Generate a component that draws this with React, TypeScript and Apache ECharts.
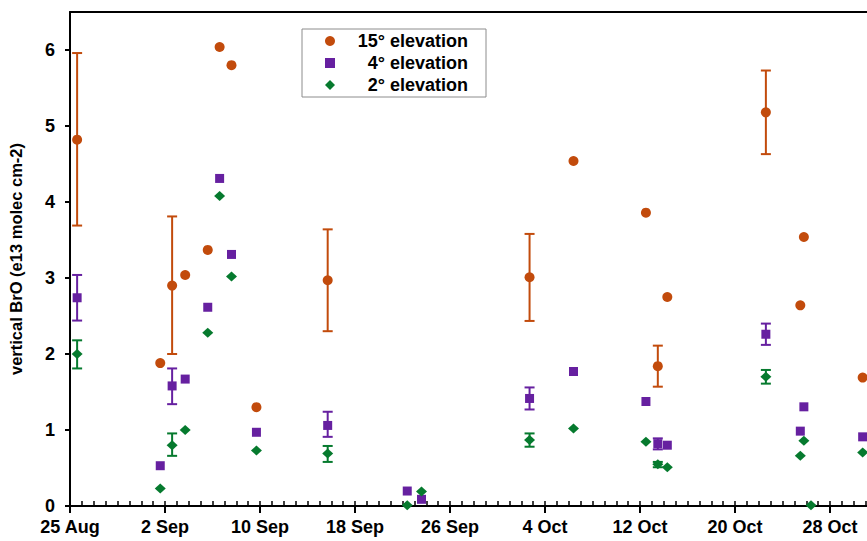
import React, { useEffect, useRef } from "react";
import * as echarts from "echarts";

// Day offsets from 25 Aug
const days15 = [0.6, 7.6, 8.6, 9.7, 11.6, 12.6, 13.6, 15.7, 21.7, 38.7, 42.4, 48.5, 49.5, 50.3, 58.6, 61.5, 61.8, 66.75];
const bro15 = [4.82, 1.88, 2.9, 3.04, 3.37, 6.04, 5.8, 1.3, 2.97, 3.01, 4.54, 3.86, 1.84, 2.75, 5.18, 2.64, 3.54, 1.69];

const days4 = [0.6, 7.6, 8.6, 9.7, 11.6, 12.6, 13.6, 15.7, 21.7, 28.4, 29.6, 38.7, 42.4, 48.5, 49.5, 50.3, 58.6, 61.5, 61.8, 66.75];
const bro4 = [2.74, 0.53, 1.58, 1.67, 2.615, 4.31, 3.31, 0.97, 1.06, 0.197, 0.088, 1.415, 1.77, 1.375, 0.82, 0.8, 2.26, 0.985, 1.305, 0.91];

const days2 = [0.6, 7.6, 8.6, 9.7, 11.6, 12.6, 13.6, 15.7, 21.7, 28.4, 29.6, 38.7, 42.4, 48.5, 49.5, 50.3, 58.6, 61.5, 61.8, 62.4, 66.75];
const bro2 = [2.0, 0.23, 0.8, 1.0, 2.28, 4.08, 3.02, 0.73, 0.69, 0.01, 0.19, 0.87, 1.02, 0.845, 0.55, 0.51, 1.7, 0.66, 0.86, 0.01, 0.705];

// Error bars
const errDays = [0.6, 8.6, 21.7, 38.7, 49.5, 58.6];
const err15Low = [3.69, 2.0, 2.3, 2.435, 1.57, 4.63];
const err15High = [5.96, 3.81, 3.64, 3.58, 2.11, 5.73];
const err4Low = [2.44, 1.34, 0.91, 1.27, 0.745, 2.12];
const err4High = [3.04, 1.81, 1.24, 1.56, 0.89, 2.4];
const err2Low = [1.81, 0.66, 0.58, 0.78, 0.51, 1.61];
const err2High = [2.18, 0.955, 0.79, 0.955, 0.58, 1.79];

const seriesNames = ["15° elevation", "4° elevation", "2° elevation"];
const xTickValues = [0, 8, 16, 24, 32, 40, 48, 56, 64];
const xTickLabels = ["25 Aug", "2 Sep", "10 Sep", "18 Sep", "26 Sep", "4 Oct", "12 Oct", "20 Oct", "28 Oct"];
const yTicks = [0, 1, 2, 3, 4, 5, 6];

const C15 = "#C24B0C";
const C4 = "#6620A0";
const C2 = "#067A2E";
const FONT = 'Arial, "Liberation Sans", sans-serif';

function pairs(xs: number[], ys: number[]) {
  return xs.map((x, i) => [x, ys[i]]);
}
function triples(xs: number[], lo: number[], hi: number[]) {
  return xs.map((x, i) => [x, lo[i], hi[i]]);
}

function errSeries(name: string, color: string, data: number[][]) {
  return {
    type: "custom",
    name,
    xAxisIndex: 0,
    yAxisIndex: 0,
    z: 1,
    data,
    renderItem: (_p: any, api: any) => {
      const x = api.value(0);
      const lo = api.coord([x, api.value(1)]);
      const hi = api.coord([x, api.value(2)]);
      const w = 5;
      const style = { stroke: color, lineWidth: 2 };
      return {
        type: "group",
        children: [
          { type: "line", shape: { x1: lo[0], y1: lo[1], x2: hi[0], y2: hi[1] }, style },
          { type: "line", shape: { x1: lo[0] - w, y1: lo[1], x2: lo[0] + w, y2: lo[1] }, style },
          { type: "line", shape: { x1: hi[0] - w, y1: hi[1], x2: hi[0] + w, y2: hi[1] }, style },
        ],
      };
    },
  };
}

export default function App() {
  const ref = useRef<HTMLDivElement>(null);
  useEffect(() => {
    if (!ref.current) return;
    const chart = echarts.init(ref.current, null, { renderer: "svg" });
    const option: any = {
      animation: false,
      backgroundColor: "#ffffff",
      textStyle: { fontFamily: FONT },
      grid: {
        left: 70,
        top: 12,
        width: 807.5,
        height: 494,
        containLabel: false,
        outerBoundsMode: "none",
      },
      legend: {
        orient: "vertical",
        left: 302,
        top: 29,
        data: seriesNames,
        itemWidth: 10,
        itemHeight: 10,
        itemGap: 4,
        itemTextGap: 5,
        padding: [3, 18, 3, 23],
        borderColor: "#8c8c8c",
        borderWidth: 1,
        backgroundColor: "#ffffff",
        formatter: (name: string) => `{t|${name}}`,
        textStyle: {
          rich: {
            t: {
              width: 128,
              align: "right",
              fontSize: 18,
              fontWeight: "bold",
              fontFamily: FONT,
              color: "#000",
              lineHeight: 18,
            },
          },
        },
      },
      xAxis: [
        {
          type: "value",
          position: "bottom",
          min: 0,
          max: 68,
          axisLine: { show: true, onZero: false, lineStyle: { color: "#000", width: 2 } },
          axisTick: {
            show: true,
            inside: false,
            length: 7,
            customValues: xTickValues,
            lineStyle: { color: "#000", width: 2 },
          },
          axisLabel: {
            show: true,
            customValues: xTickValues,
            margin: 12,
            fontSize: 18,
            fontWeight: "bold",
            color: "#000",
            fontFamily: FONT,
            formatter: (v: number) => {
              const i = xTickValues.indexOf(v);
              return i >= 0 ? xTickLabels[i] : "";
            },
          },
          splitLine: { show: false },
        },
        {
          type: "value",
          position: "bottom",
          min: 0,
          max: 68,
          interval: 1,
          axisLine: { show: false, onZero: false },
          axisTick: { show: true, inside: true, length: 5, lineStyle: { color: "#000", width: 1.5 } },
          axisLabel: { show: false },
          splitLine: { show: false },
        },
        {
          type: "value",
          position: "top",
          min: 0,
          max: 68,
          axisLine: { show: true, onZero: false, lineStyle: { color: "#000", width: 2 } },
          axisTick: { show: false },
          axisLabel: { show: false },
          splitLine: { show: false },
        },
      ],
      yAxis: {
        type: "value",
        min: 0,
        max: 6.5,
        interval: 1,
        name: "vertical BrO (e13 molec cm-2)",
        nameLocation: "middle",
        nameGap: 46,
        nameTextStyle: { fontSize: 16.5, fontWeight: "bold", color: "#000", fontFamily: FONT },
        axisLine: { show: true, onZero: false, lineStyle: { color: "#000", width: 2 } },
        axisTick: {
          show: true,
          inside: false,
          length: 5,
          customValues: yTicks,
          lineStyle: { color: "#000", width: 2 },
        },
        axisLabel: {
          customValues: yTicks,
          margin: 15,
          fontSize: 18,
          fontWeight: "bold",
          color: "#000",
          fontFamily: FONT,
        },
        splitLine: { show: false },
      },
      series: [
        errSeries("err15", C15, triples(errDays, err15Low, err15High)),
        errSeries("err4", C4, triples(errDays, err4Low, err4High)),
        errSeries("err2", C2, triples(errDays, err2Low, err2High)),
        {
          type: "scatter",
          name: seriesNames[0],
          symbol: "circle",
          symbolSize: 10,
          itemStyle: { color: C15, opacity: 1 },
          data: pairs(days15, bro15),
          z: 3,
        },
        {
          type: "scatter",
          name: seriesNames[1],
          symbol: "rect",
          symbolSize: 9,
          itemStyle: { color: C4, opacity: 1 },
          data: pairs(days4, bro4),
          z: 3,
        },
        {
          type: "scatter",
          name: seriesNames[2],
          symbol: "diamond",
          symbolSize: [11, 10],
          itemStyle: { color: C2, opacity: 1 },
          data: pairs(days2, bro2),
          z: 3,
        },
      ],
    };
    chart.setOption(option);
    return () => chart.dispose();
  }, []);
  return (
    <div
      ref={ref}
      style={{ position: "absolute", left: 0, top: 0, width: 867, height: 541, background: "#fff" }}
    />
  );
}
